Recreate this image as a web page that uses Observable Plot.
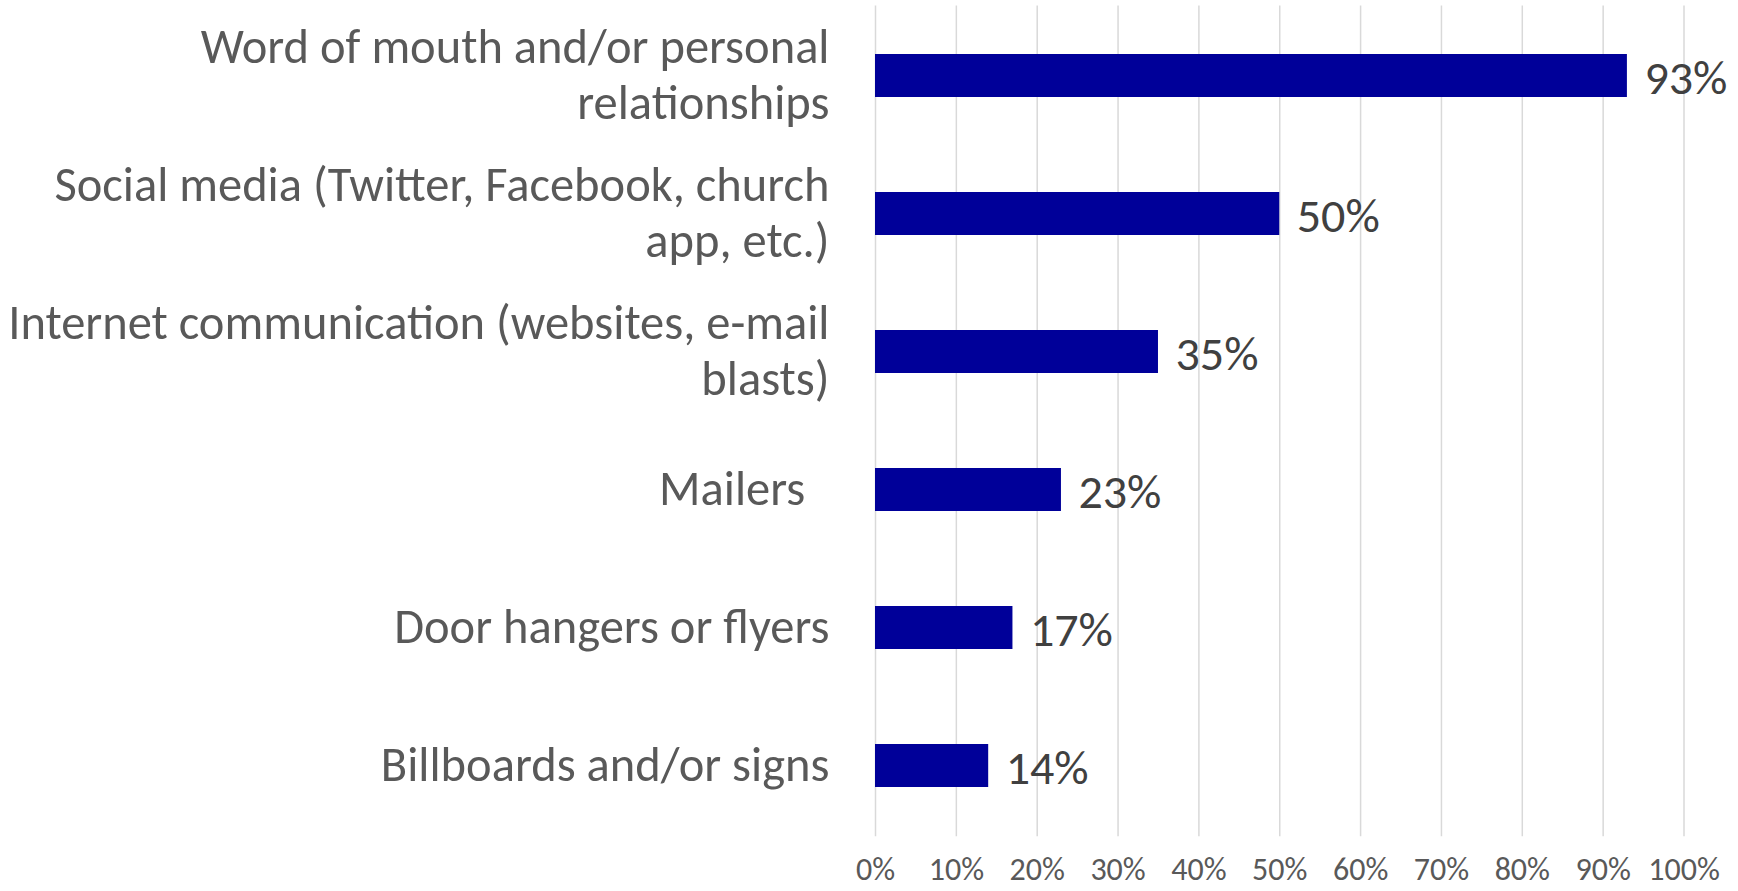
<!DOCTYPE html>
<html>
<head>
<meta charset="utf-8">
<script src="https://cdn.jsdelivr.net/npm/d3@7"></script>
<script src="https://cdn.jsdelivr.net/npm/@observablehq/plot@0.6"></script>
<style>
  html, body { margin: 0; padding: 0; background: #ffffff; }
  #chart { width: 1738px; height: 891px; }
</style>
</head>
<body>
<div id="chart"></div>
<script>
const categories = [
  "Word of mouth and/or personal relationships",
  "Social media (Twitter, Facebook, church app, etc.)",
  "Internet communication (websites, e-mail blasts)",
  "Mailers",
  "Door hangers or flyers",
  "Billboards and/or signs"
];
const categoryLabels = [
  "Word of mouth and/or personal\nrelationships",
  "Social media (Twitter, Facebook, church\napp, etc.)",
  "Internet communication (websites, e-mail\nblasts)",
  "Mailers\u2002",
  "Door hangers or flyers",
  "Billboards and/or signs"
];
const values = [93, 50, 35, 23, 17, 14];
const xTicks = [0, 10, 20, 30, 40, 50, 60, 70, 80, 90, 100];

const data = categories.map((c, i) => ({category: c, value: values[i]}));
const labelOf = new Map(categories.map((c, i) => [c, categoryLabels[i]]));

const font = "Carlito, Calibri, Lato, sans-serif";

const chart = Plot.plot({
  width: 1738,
  height: 891,
  marginLeft: 875,
  marginRight: 54.5,
  marginTop: 5.5,
  marginBottom: 54.8,
  style: {fontFamily: font, background: "#ffffff", color: "#595959"},
  x: {domain: [0, 100], label: null},
  y: {domain: categories, paddingInner: 0.686, paddingOuter: 0.343, label: null},
  marks: [
    Plot.gridX({ticks: xTicks, stroke: "#d9d9d9", strokeOpacity: 1, strokeWidth: 1.5}),
    Plot.barX(data, {x: "value", y: "category", fill: "#000099"}),
    Plot.text(data, {
      x: "value", y: "category", text: d => d.value + "%",
      textAnchor: "start", dx: 17, dy: 3, fontSize: 48, fill: "#404040"
    }),
    Plot.axisX({ticks: xTicks, tickFormat: d => d + "%", tickSize: 0, tickPadding: 21, fontSize: 32, fill: "#595959", label: null}),
    Plot.axisY({tickSize: 0, tickPadding: 46, fontSize: 48.5, lineHeight: 1.165, dy: -3, tickFormat: d => labelOf.get(d), fill: "#595959", label: null})
  ]
});
document.getElementById("chart").appendChild(chart);
</script>
</body>
</html>
